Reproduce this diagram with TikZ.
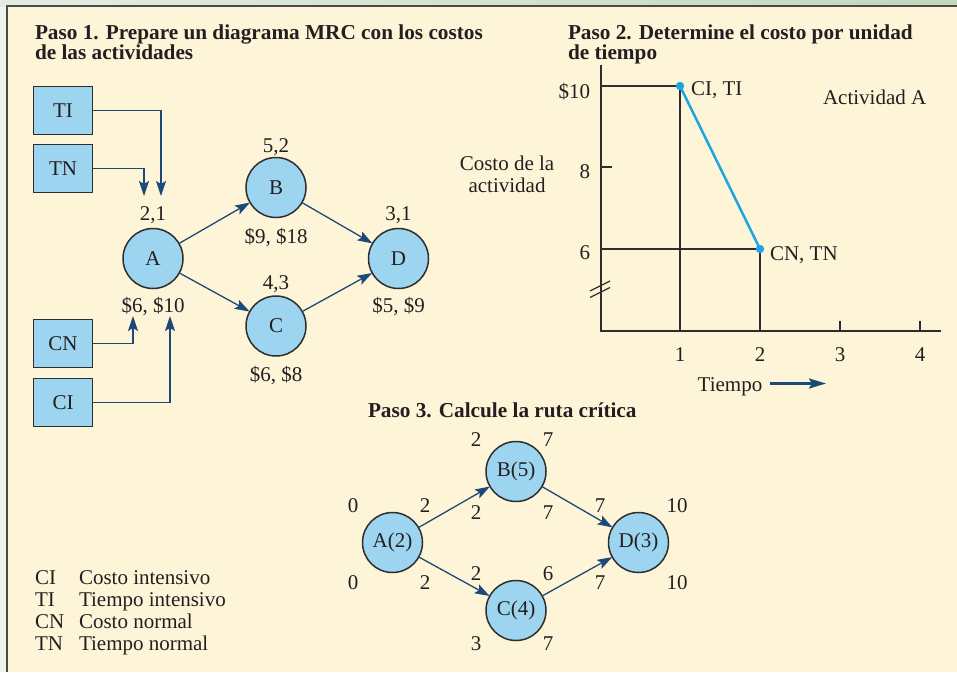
\documentclass[tikz,border=0pt]{standalone}
\usepackage{fontspec}
\setmainfont{Liberation Serif}
\usetikzlibrary{arrows.meta,calc}
\definecolor{bgc}{HTML}{FEF4D8}
\definecolor{outerc}{HTML}{EEF3EC}
\definecolor{stripL}{HTML}{E4ECE1}
\definecolor{stripR}{HTML}{C3D7BB}
\definecolor{framec}{HTML}{4A4A4A}
\definecolor{nodeblue}{HTML}{9DD4EF}
\definecolor{arrc}{HTML}{1B4A78}
\definecolor{txt}{HTML}{231F20}
\definecolor{cyanl}{HTML}{1AA6E2}
\definecolor{edgec}{HTML}{2E2E2E}
\begin{document}
\begin{tikzpicture}[x=1pt,y=-1pt,
  font=\fontsize{21}{22}\selectfont, text=txt,
  every node/.style={inner sep=0pt, outer sep=0pt},
  lbl/.style={anchor=base},
  ttl/.style={anchor=base west, font=\bfseries\fontsize{21.25}{22}\selectfont},
  box/.style={draw=edgec, line width=1.5pt, fill=nodeblue, minimum width=59pt, minimum height=48pt},
  circ/.style={circle, draw=edgec, line width=1.5pt, fill=nodeblue, minimum size=60pt},
  arr/.style={draw=arrc, line width=1.3pt, -{Stealth[length=15pt,width=10pt,inset=3pt]}},
  heavy/.style={draw=edgec, line width=2.8pt},
  axisl/.style={draw=edgec, line width=1.8pt},
]
\useasboundingbox (0,0) rectangle (957,672);
% background and frame
\fill[outerc] (0,0) rectangle (957,672);
\shade[left color=stripL, right color=stripR] (0,0) rectangle (957,6);
\fill[bgc] (7,6) rectangle (957,672);
\draw[framec, line width=1.8pt] (7,672) -- (7,6) -- (957,6);

% ---------- Paso 1 ----------
\node[ttl] (t1a) at (35,39) {Paso 1. Prepare un diagrama MRC con los costos};
\node[ttl] (t1b) at (35,59) {de las actividades};

\node[box] (TI) at (63,110.5) {TI};
\node[box] (TN) at (63,168.5) {TN};
\node[box] (CN) at (63,343.5) {CN};
\node[box] (CI) at (63,402.5) {CI};

\node[circ] (A) at (153,258.5) {A};
\node[circ] (B) at (276,187.5) {B};
\node[circ] (C) at (276,326) {C};
\node[circ] (D) at (398.5,258.5) {D};

\node[lbl] (lA) at (153,220.5) {2,1};
\node[lbl] (lB) at (276,152) {5,2};
\node[lbl] (lD) at (398.5,220.5) {3,1};
\node[lbl] (lC) at (276,289.5) {4,3};
\node[lbl] (cB) at (276,243) {\$9, \$18};
\node[lbl] (cA) at (153,312.5) {\$6, \$10};
\node[lbl] (cD) at (398.5,312.5) {\$5, \$9};
\node[lbl] (cC) at (276,381.5) {\$6, \$8};

\coordinate (tiE) at (161,196);
\coordinate (tnE) at (144,196);
\coordinate (cnE) at (133,316);
\coordinate (ciE) at (170,316);
\draw[arr] (TI.east) -| (tiE);
\draw[arr] (TN.east) -| (tnE);
\draw[arr] (CN.east) -| (cnE);
\draw[arr] (CI.east) -| (ciE);

\draw[arr] (A) -- (B);
\draw[arr] (A) -- (C);
\draw[arr] (B) -- (D);
\draw[arr] (C) -- (D);

% legend
\node[anchor=base west] (k1) at (35,584.5) {CI};
\node[anchor=base west] (k2) at (35,606.5) {TI};
\node[anchor=base west] (k3) at (35,628.5) {CN};
\node[anchor=base west] (k4) at (35,650.5) {TN};
\node[anchor=base west] (d1) at (79,584.5) {Costo intensivo};
\node[anchor=base west] (d2) at (79,606.5) {Tiempo intensivo};
\node[anchor=base west] (d3) at (79,628.5) {Costo normal};
\node[anchor=base west] (d4) at (79,650.5) {Tiempo normal};

% ---------- Paso 2 ----------
\node[ttl] (t2a) at (568,39) {Paso 2. Determine el costo por unidad};
\node[ttl] (t2b) at (568,59) {de tiempo};

\coordinate (O) at (601,331);
\coordinate (ytop) at (601,65);
\coordinate (xend) at (941,331);
\draw[axisl] (ytop) -- (O) -- (xend);
\draw[axisl] (601,167) -- (612,167);
\draw[axisl] (840,331) -- (840,321);
\draw[axisl] (920,331) -- (920,321);
\draw[edgec, line width=1.3pt] (590,291) -- (610,281);
\draw[edgec, line width=1.3pt] (590,297.5) -- (610,287.5);

\coordinate (P1) at (680,86);
\coordinate (P2) at (760,249);
\draw[heavy] (601,86) -- (P1) -- (680,331);
\draw[heavy] (601,249) -- (P2) -- (760,331);
\draw[cyanl, line width=2.5pt] (P1) -- (P2);
\fill[cyanl] (P1) circle (4.2pt);
\fill[cyanl] (P2) circle (4.2pt);

\node[anchor=base east] (y10) at (590,98) {\$10};
\node[anchor=base east] (y8) at (590,178) {8};
\node[anchor=base east] (y6) at (590,259.5) {6};
\node[lbl] (x1) at (680,361.5) {1};
\node[lbl] (x2) at (760,361.5) {2};
\node[lbl] (x3) at (840,361.5) {3};
\node[lbl] (x4) at (920,361.5) {4};
\node[lbl] (ylab1) at (507,170.5) {Costo de la};
\node[lbl] (ylab2) at (507,192.5) {actividad};
\node[anchor=base west] (pCI) at (691,95) {CI, TI};
\node[anchor=base west] (pCN) at (770,260) {CN, TN};
\node[anchor=base west] (actA) at (823,104) {Actividad A};
\node[lbl] (tiempo) at (730,391.5) {Tiempo};
\coordinate (ta1) at (770,383.5);
\coordinate (ta2) at (826,383.5);
\draw[draw=arrc, line width=2.6pt, -{Stealth[length=17pt,width=10pt,inset=3pt]}] (ta1) -- (ta2);

% ---------- Paso 3 ----------
\node[ttl] (t3) at (368,417) {Paso 3. Calcule la ruta crítica};

\node[circ] (A3) at (392.5,542.5) {A(2)};
\node[circ] (B3) at (516,471.5) {B(5)};
\node[circ] (C3) at (516,610.5) {C(4)};
\node[circ] (D3) at (638.5,542.5) {D(3)};
\draw[arr] (A3) -- (B3);
\draw[arr] (A3) -- (C3);
\draw[arr] (B3) -- (D3);
\draw[arr] (C3) -- (D3);

\node[lbl] (n1) at (353,512.5) {0};
\node[lbl] (n2) at (425,512.5) {2};
\node[lbl] (n3) at (353,589) {0};
\node[lbl] (n4) at (425,589) {2};
\node[lbl] (n5) at (476,446.5) {2};
\node[lbl] (n6) at (548,446.5) {7};
\node[lbl] (n7) at (476,519) {2};
\node[lbl] (n8) at (548,519) {7};
\node[lbl] (n9) at (600,512.5) {7};
\node[lbl] (n10) at (677,512.5) {10};
\node[lbl] (n11) at (600,589) {7};
\node[lbl] (n12) at (677,589) {10};
\node[lbl] (n13) at (476,580) {2};
\node[lbl] (n14) at (548,580) {6};
\node[lbl] (n15) at (476,650.5) {3};
\node[lbl] (n16) at (548,650.5) {7};
\end{tikzpicture}
\end{document}
